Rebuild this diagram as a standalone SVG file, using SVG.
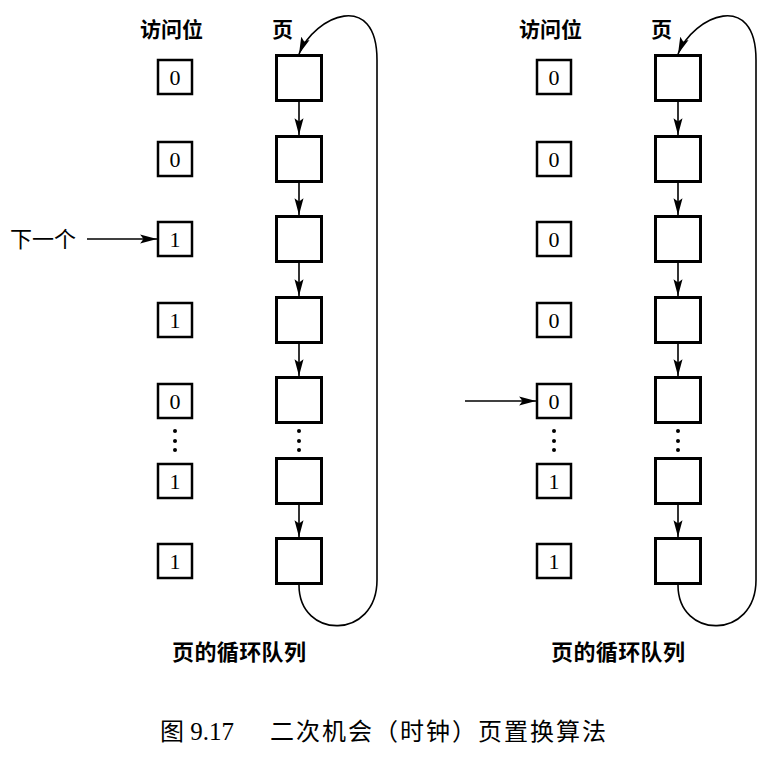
<svg xmlns="http://www.w3.org/2000/svg" width="782" height="760" viewBox="0 0 782 760">
<style>
.bit{fill:#fff;stroke:#000;stroke-width:2.5}
.pg{fill:#fff;stroke:#000;stroke-width:3}
.d{font-family:"Liberation Serif",serif;font-size:22px;text-anchor:middle;fill:#000}
.cjk{font-family:"Liberation Serif","Noto Sans CJK SC",sans-serif;font-size:21px;fill:#000}
.b{font-weight:bold}
.ln{fill:none;stroke:#000;stroke-width:1.6}
.dot{fill:#000}
</style>
<defs>
<marker id="ah" markerUnits="userSpaceOnUse" markerWidth="18" markerHeight="10" refX="15" refY="4" orient="auto" viewBox="0 0 16 8">
<path d="M0,0 L15,4 L0,8 L3,4 Z" fill="#000"/>
</marker>
</defs>
<g id="headers">
<text class="cjk b" x="140" y="37">访问位</text>
<text class="cjk b" x="272" y="37">页</text>
<text class="cjk b" x="519" y="37">访问位</text>
<text class="cjk b" x="651" y="37">页</text>
</g>
<g id="left-bits">
<g id="lb1"><rect class="bit" x="158" y="60" width="34" height="34"/><text class="d" x="175" y="85">0</text></g>
<g id="lb2"><rect class="bit" x="158" y="142" width="34" height="34"/><text class="d" x="175" y="167">0</text></g>
<g id="lb3"><rect class="bit" x="158" y="222" width="34" height="34"/><text class="d" x="175" y="247">1</text></g>
<g id="lb4"><rect class="bit" x="158" y="303" width="34" height="34"/><text class="d" x="175" y="328">1</text></g>
<g id="lb5"><rect class="bit" x="158" y="384" width="34" height="34"/><text class="d" x="175" y="409">0</text></g>
<g id="lb6"><rect class="bit" x="158" y="464" width="34" height="34"/><text class="d" x="175" y="489">1</text></g>
<g id="lb7"><rect class="bit" x="158" y="544" width="34" height="34"/><text class="d" x="175" y="569">1</text></g>
</g>
<g id="left-pages">
<rect id="lp1" class="pg" x="276.5" y="55.5" width="45" height="45"/>
<rect id="lp2" class="pg" x="276.5" y="136.5" width="45" height="45"/>
<rect id="lp3" class="pg" x="276.5" y="216.5" width="45" height="45"/>
<rect id="lp4" class="pg" x="276.5" y="297.5" width="45" height="45"/>
<rect id="lp5" class="pg" x="276.5" y="377.5" width="45" height="45"/>
<rect id="lp6" class="pg" x="276.5" y="458.5" width="45" height="45"/>
<rect id="lp7" class="pg" x="276.5" y="538.5" width="45" height="45"/>
</g>
<g id="right-bits">
<g id="rb1"><rect class="bit" x="537" y="60" width="34" height="34"/><text class="d" x="554" y="85">0</text></g>
<g id="rb2"><rect class="bit" x="537" y="142" width="34" height="34"/><text class="d" x="554" y="167">0</text></g>
<g id="rb3"><rect class="bit" x="537" y="222" width="34" height="34"/><text class="d" x="554" y="247">0</text></g>
<g id="rb4"><rect class="bit" x="537" y="303" width="34" height="34"/><text class="d" x="554" y="328">0</text></g>
<g id="rb5"><rect class="bit" x="537" y="384" width="34" height="34"/><text class="d" x="554" y="409">0</text></g>
<g id="rb6"><rect class="bit" x="537" y="464" width="34" height="34"/><text class="d" x="554" y="489">1</text></g>
<g id="rb7"><rect class="bit" x="537" y="544" width="34" height="34"/><text class="d" x="554" y="569">1</text></g>
</g>
<g id="right-pages">
<rect id="rp1" class="pg" x="655.5" y="55.5" width="45" height="45"/>
<rect id="rp2" class="pg" x="655.5" y="136.5" width="45" height="45"/>
<rect id="rp3" class="pg" x="655.5" y="216.5" width="45" height="45"/>
<rect id="rp4" class="pg" x="655.5" y="297.5" width="45" height="45"/>
<rect id="rp5" class="pg" x="655.5" y="377.5" width="45" height="45"/>
<rect id="rp6" class="pg" x="655.5" y="458.5" width="45" height="45"/>
<rect id="rp7" class="pg" x="655.5" y="538.5" width="45" height="45"/>
</g>
<g id="dots">
<circle class="dot" cx="175" cy="431" r="2"/><circle class="dot" cx="175" cy="441" r="2"/><circle class="dot" cx="175" cy="450" r="2"/>
<circle class="dot" cx="299" cy="431" r="2"/><circle class="dot" cx="299" cy="441" r="2"/><circle class="dot" cx="299" cy="450" r="2"/>
<circle class="dot" cx="554" cy="431" r="2"/><circle class="dot" cx="554" cy="441" r="2"/><circle class="dot" cx="554" cy="450" r="2"/>
<circle class="dot" cx="678" cy="431" r="2"/><circle class="dot" cx="678" cy="441" r="2"/><circle class="dot" cx="678" cy="450" r="2"/>
</g>
<g id="connectors">
<path class="ln" marker-end="url(#ah)" d="M299,102 L299,135"/>
<path class="ln" marker-end="url(#ah)" d="M299,183 L299,215"/>
<path class="ln" marker-end="url(#ah)" d="M299,263 L299,296"/>
<path class="ln" marker-end="url(#ah)" d="M299,344 L299,376"/>
<path class="ln" marker-end="url(#ah)" d="M299,505 L299,537"/>
<path class="ln" marker-end="url(#ah)" d="M299,585 C299,640 377,640 377,580 L377,60 C377,-10 315,15 299,54"/>
<path class="ln" marker-end="url(#ah)" d="M87,239 L157,239"/>
<path class="ln" marker-end="url(#ah)" d="M678,102 L678,135"/>
<path class="ln" marker-end="url(#ah)" d="M678,183 L678,215"/>
<path class="ln" marker-end="url(#ah)" d="M678,263 L678,296"/>
<path class="ln" marker-end="url(#ah)" d="M678,344 L678,376"/>
<path class="ln" marker-end="url(#ah)" d="M678,505 L678,537"/>
<path class="ln" marker-end="url(#ah)" d="M678,585 C678,640 756,640 756,580 L756,60 C756,-10 694,15 678,54"/>
<path class="ln" marker-end="url(#ah)" d="M465,401 L536,401"/>
</g>
<g id="labels">
<text class="cjk" x="10" y="247" style="font-size:22px">下一个</text>
<text class="cjk b" x="172" y="660" style="font-size:22px" textLength="134">页的循环队列</text>
<text class="cjk b" x="551" y="660" style="font-size:22px" textLength="134">页的循环队列</text>
</g>
<g id="caption">
<text class="cjk" x="160" y="740" style="font-size:24px">图</text>
<text class="d" x="212" y="740" style="font-size:25px">9.17</text>
<text class="cjk" x="270" y="740" style="font-size:24px" textLength="336">二次机会（时钟）页置换算法</text>
</g>
</svg>
